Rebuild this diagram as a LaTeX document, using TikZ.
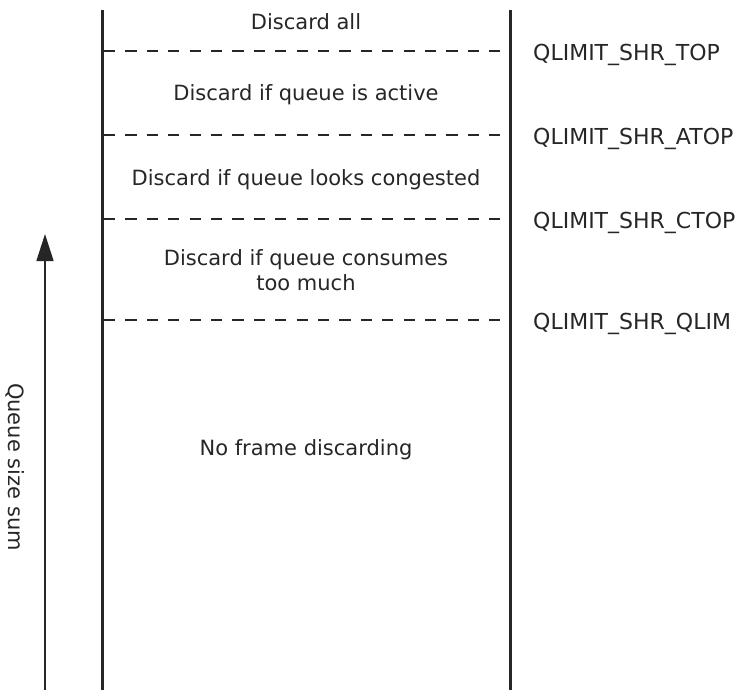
\documentclass[tikz,border=0pt]{standalone}
\usepackage{fontspec}
\setmainfont{DejaVu Sans}
\usetikzlibrary{arrows.meta}
\begin{document}
\begin{tikzpicture}[x=1pt,y=-1pt,
  wall/.style={line width=3pt,draw=black!85},
  level/.style={line width=2.4pt,draw=black!85,dash pattern=on 11.2pt off 10.2pt},
  zone/.style={font=\fontsize{21}{25}\selectfont,text=black!85,align=center,inner sep=0pt},
  lim/.style={font=\fontsize{22}{25}\selectfont,text=black!85,anchor=west,inner sep=0pt},
  axis/.style={line width=1.5pt,draw=black!85,-{Triangle[width=17pt,length=27pt]}}]
\useasboundingbox (0,0) rectangle (741,690);
\coordinate (lt) at (102,10);
\coordinate (lb) at (102,690);
\coordinate (rt) at (510,10);
\coordinate (rb) at (510,690);
\draw[wall] (lt) -- (lb);
\draw[wall] (rt) -- (rb);
\foreach \n/\y in {a/51,b/135,c/219,d/320}{
  \coordinate (\n l) at (104,\y);
  \coordinate (\n r) at (500,\y);
  \draw[level] (\n l) -- (\n r);
}
\node[zone] (z1) at (306,22) {Discard all};
\node[zone] (z2) at (306,95) {Discard if queue is active};
\node[zone] (z3) at (306,180) {Discard if queue looks congested};
\node[zone] (z4) at (306,270) {Discard if queue consumes\\too much};
\node[zone] (z5) at (306,450) {No frame discarding};
\node[lim] (l1) at (533,55) {QLIMIT\_SHR\_TOP};
\node[lim] (l2) at (533,139) {QLIMIT\_SHR\_ATOP};
\node[lim] (l3) at (533,223) {QLIMIT\_SHR\_CTOP};
\node[lim] (l4) at (533,324) {QLIMIT\_SHR\_QLIM};
\coordinate (ab) at (45,690);
\coordinate (at) at (45,234);
\draw[axis] (ab) -- (at);
\node[zone,rotate=-90] (q) at (15,467) {Queue size sum};
\end{tikzpicture}
\end{document}
